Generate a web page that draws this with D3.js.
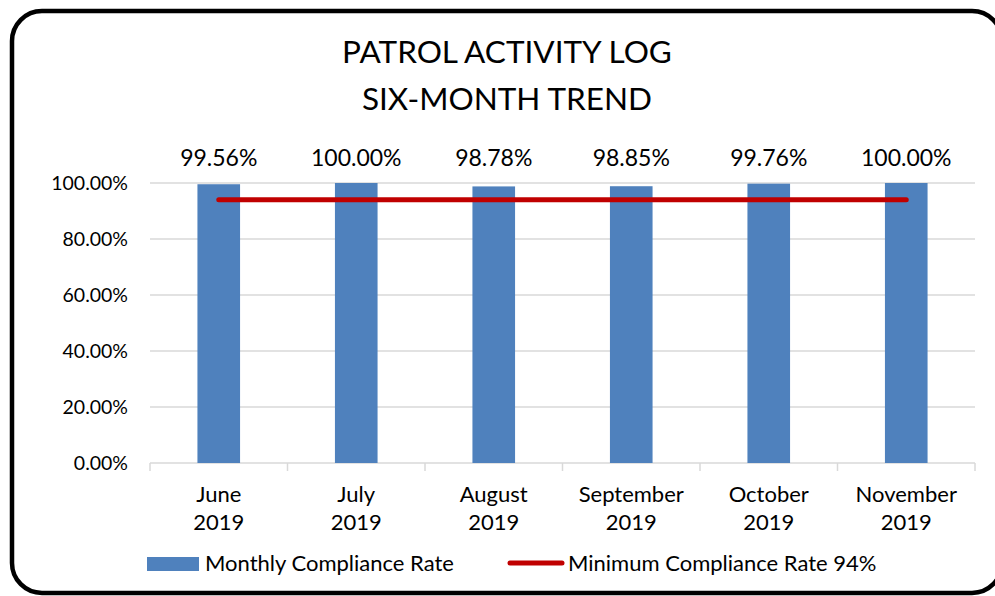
<!DOCTYPE html>
<html>
<head>
<meta charset="utf-8">
<script src="https://d3js.org/d3.v7.min.js"></script>
<style>
  html, body { margin: 0; padding: 0; background: #fff; }
  svg { display: block; font-family: Lato, "Noto Sans", sans-serif; }
</style>
</head>
<body>
<svg id="chart"></svg>
<script>
"use strict"

// chart data
const months = ["June", "July", "August", "September", "October", "November"]
const years = ["2019", "2019", "2019", "2019", "2019", "2019"]
const compliance = [99.56, 100.00, 98.78, 98.85, 99.76, 100.00]
const minimumRate = 94
const yTicks = [0, 20, 40, 60, 80, 100]
const titleLines = ["PATROL ACTIVITY LOG", "SIX-MONTH TREND"]
const legendLabels = ["Monthly Compliance Rate", "Minimum Compliance Rate 94%"]

function drawChart() {
  const W = 995, H = 596
  const plot = { left: 150, right: 975, top: 183, bottom: 463 }
  const blue = "#4f81bd", red = "#c00000"

  const svg = d3.select("#chart")
    .attr("width", W)
    .attr("height", H)

  // rounded frame
  svg.append("rect")
    .attr("x", 12).attr("y", 11)
    .attr("width", 990).attr("height", 582)
    .attr("rx", 30).attr("ry", 30)
    .attr("fill", "#fff")
    .attr("stroke", "#000")
    .attr("stroke-width", 4.5)

  // title
  svg.append("g")
    .selectAll("text")
    .data(titleLines)
    .enter().append("text")
      .attr("x", 507)
      .attr("y", (d, i) => 63 + i * 47)
      .attr("text-anchor", "middle")
      .attr("font-size", 31.5)
      .attr("fill", "#000")
      .text(d => d)

  const x = d3.scaleBand()
    .domain(months)
    .range([plot.left, plot.right])
    .paddingInner(0.69)
    .paddingOuter(0.345)

  const y = d3.scaleLinear()
    .domain([0, 100])
    .range([plot.bottom, plot.top])

  // gridlines
  svg.append("g")
    .selectAll("line")
    .data(yTicks.filter(t => t > 0))
    .enter().append("line")
      .attr("x1", plot.left).attr("x2", plot.right)
      .attr("y1", d => y(d)).attr("y2", d => y(d))
      .attr("stroke", "#d9d9d9")
      .attr("stroke-width", 1.5)

  // y axis labels
  const yAxis = d3.axisLeft(y)
    .tickValues(yTicks)
    .tickFormat(d => d.toFixed(2) + "%")
    .tickSize(0)
    .tickPadding(22)
  const gy = svg.append("g")
    .attr("transform", `translate(${plot.left},0)`)
    .call(yAxis)
  gy.select(".domain").remove()
  gy.selectAll("text")
    .attr("font-size", 19.5)
    .attr("font-family", "Lato, sans-serif")
    .attr("fill", "#000")

  // x axis line and category ticks
  const bounds = months.map((m, i) => plot.left + i * (plot.right - plot.left) / months.length)
  bounds.push(plot.right)
  svg.append("line")
    .attr("x1", plot.left).attr("x2", plot.right)
    .attr("y1", plot.bottom).attr("y2", plot.bottom)
    .attr("stroke", "#d9d9d9").attr("stroke-width", 1.5)
  svg.append("g")
    .selectAll("line")
    .data(bounds)
    .enter().append("line")
      .attr("x1", d => d).attr("x2", d => d)
      .attr("y1", plot.bottom).attr("y2", plot.bottom + 8)
      .attr("stroke", "#d9d9d9").attr("stroke-width", 1.5)

  // bars
  svg.append("g")
    .selectAll("rect")
    .data(compliance)
    .enter().append("rect")
      .attr("x", (d, i) => x(months[i]))
      .attr("y", d => y(d))
      .attr("width", x.bandwidth())
      .attr("height", d => y(0) - y(d))
      .attr("fill", blue)

  // bar value labels
  svg.append("g")
    .selectAll("text")
    .data(compliance)
    .enter().append("text")
      .attr("x", (d, i) => x(months[i]) + x.bandwidth() / 2)
      .attr("y", 166)
      .attr("text-anchor", "middle")
      .attr("font-size", 23)
      .attr("fill", "#000")
      .text(d => d.toFixed(2) + "%")

  // minimum compliance line
  const line = d3.line()
    .x(d => x(d) + x.bandwidth() / 2)
    .y(() => y(minimumRate))
  svg.append("path")
    .datum(months)
    .attr("d", line)
    .attr("fill", "none")
    .attr("stroke", red)
    .attr("stroke-width", 5)
    .attr("stroke-linecap", "round")

  // x labels (two lines)
  const xl = svg.append("g")
    .selectAll("text")
    .data(months)
    .enter().append("text")
      .attr("text-anchor", "middle")
      .attr("font-size", 22)
      .attr("fill", "#000")
  xl.append("tspan")
    .attr("x", d => x(d) + x.bandwidth() / 2)
    .attr("y", 502)
    .text(d => d)
  xl.append("tspan")
    .attr("x", d => x(d) + x.bandwidth() / 2)
    .attr("y", 530)
    .text((d, i) => years[i])

  // legend
  const lg = svg.append("g").attr("font-size", 22).attr("fill", "#000")
  lg.append("rect")
    .attr("x", 147).attr("y", 557)
    .attr("width", 52).attr("height", 14)
    .attr("fill", blue)
  lg.append("text")
    .attr("x", 205).attr("y", 571)
    .text(legendLabels[0])
  lg.append("line")
    .attr("x1", 510).attr("x2", 562)
    .attr("y1", 563).attr("y2", 563)
    .attr("stroke", red).attr("stroke-width", 5)
    .attr("stroke-linecap", "round")
  lg.append("text")
    .attr("x", 568).attr("y", 571)
    .text(legendLabels[1])
}

drawChart()
</script>
</body>
</html>
